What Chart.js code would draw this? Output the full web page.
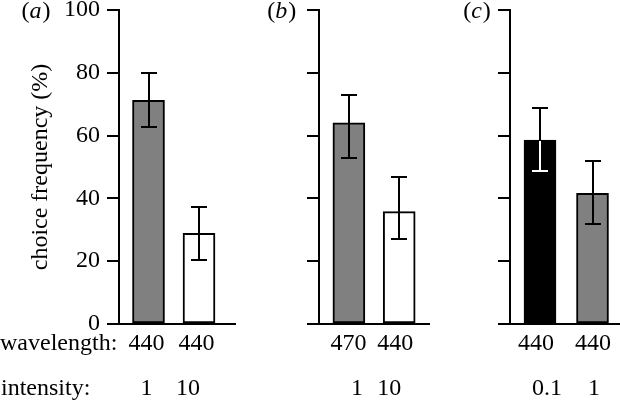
<!DOCTYPE html>
<html><head><meta charset="utf-8">
<script src="https://cdn.jsdelivr.net/npm/chart.js@4.4.0/dist/chart.umd.min.js"></script>
<style>
html,body{margin:0;padding:0;background:#fff;overflow:hidden;width:620px;height:402px;position:relative}
canvas{position:absolute;top:-30px}
</style></head>
<body>
<canvas id="ca" width="240" height="432" style="left:0px"></canvas>
<canvas id="cb" width="190" height="432" style="left:240px"></canvas>
<canvas id="cc" width="190" height="432" style="left:430px"></canvas>
<script>
// ---- data ----
const panelLetters = ['a', 'b', 'c'];
const yTitle = 'choice frequency (%)';
const rowLabels = ['wavelength:', 'intensity:'];
const yTickValues = [0, 20, 40, 60, 80, 100];

const wavelengthA = ['440', '440'];
const intensityA = ['1', '10'];
const choiceA = [71.2, 28.9];
const errLowA = [62.7, 20.4];
const errHighA = [80.0, 37.3];

const wavelengthB = ['470', '440'];
const intensityB = ['1', '10'];
const choiceB = [64.1, 35.8];
const errLowB = [53.0, 27.0];
const errHighB = [72.8, 46.8];

const wavelengthC = ['440', '440'];
const intensityC = ['0.1', '1'];
const choiceC = [58.6, 41.6];
const errLowC = [48.7, 31.8];
const errHighC = [68.8, 51.9];

// ---- styling / layout ----
const FAMILY = '"Liberation Serif", "Times New Roman", serif';
const FSIZE = 24;
const GREY = '#808080';
Chart.defaults.font.family = FAMILY;
Chart.defaults.color = '#000';

const annotPlugin = {
  id: 'annot',
  afterDatasetsDraw(chart, args, o) {
    const ctx = chart.ctx, meta = chart.getDatasetMeta(0), ys = chart.scales.y;
    meta.data.forEach((bar, i) => {
      const x = Math.round(bar.x);
      const yl = Math.round(ys.getPixelForValue(o.low[i]));
      const yh = Math.round(ys.getPixelForValue(o.high[i]));
      const draw = (color) => {
        ctx.strokeStyle = color; ctx.lineWidth = 2; ctx.lineCap = 'butt';
        ctx.beginPath();
        ctx.moveTo(x, yl); ctx.lineTo(x, yh);
        ctx.moveTo(x - 8, yl); ctx.lineTo(x + 8, yl);
        ctx.moveTo(x - 8, yh); ctx.lineTo(x + 8, yh);
        ctx.stroke();
      };
      ctx.save();
      draw('#000');
      if (o.inner[i] !== '#000') {
        ctx.beginPath();
        ctx.rect(bar.x - bar.width / 2 + 2, bar.y + 1, bar.width - 4, bar.base - bar.y - 2);
        ctx.clip();
        draw(o.inner[i]);
      }
      ctx.restore();
    });
  },
  afterDraw(chart, args, o) {
    const ctx = chart.ctx, xs = chart.scales.x;
    ctx.save();
    ctx.fillStyle = '#000';
    ctx.font = FSIZE + 'px ' + FAMILY;
    ctx.textBaseline = 'middle';
    ctx.textAlign = 'center';
    o.wavelength.forEach((t, i) => ctx.fillText(t, xs.getPixelForValue(i) + o.wlShift[i], 344 + 30));
    o.intensity.forEach((t, i) => ctx.fillText(t, xs.getPixelForValue(i) + o.inShift[i], 389 + 30));
    if (o.rows) {
      ctx.textAlign = 'left';
      ctx.fillText(rowLabels[0], 0, 344 + 30);
      ctx.fillText(rowLabels[1], 1, 389 + 30);
    }
    // panel label "(x)" with italic letter
    const normal = FSIZE + 'px ' + FAMILY, ital = 'italic ' + FSIZE + 'px ' + FAMILY;
    ctx.font = normal; const wp = ctx.measureText('(').width, wq = ctx.measureText(')').width;
    ctx.font = ital; const wl = ctx.measureText(o.letter).width;
    let x = o.labelX - (wp + wl + wq + 1) / 2;
    const y = 12 + 30;
    ctx.textAlign = 'left';
    ctx.font = normal; ctx.fillText('(', x, y); x += wp;
    ctx.font = ital; ctx.fillText(o.letter, x, y); x += wl + 1;
    ctx.font = normal; ctx.fillText(')', x, y);
    ctx.restore();
  }
};

function makePanel(id, p) {
  const spacing = p.c1 - p.c0;
  const xmin = -(p.c0 - p.axisX) / spacing;
  const xmax = xmin + (p.right - p.axisX) / spacing;
  return new Chart(document.getElementById(id), {
    type: 'bar',
    data: {
      datasets: [{
        data: p.values.map((v, i) => ({ x: i, y: v })),
        backgroundColor: p.fills,
        borderColor: '#000',
        borderWidth: 2,
        borderSkipped: false,
        barThickness: 32
      }]
    },
    options: {
      responsive: false,
      animation: false,
      devicePixelRatio: 1,
      layout: { padding: { left: 0, top: 40, right: p.padRight, bottom: 68 } },
      plugins: {
        legend: { display: false },
        tooltip: { enabled: false },
        annot: {
          low: p.low, high: p.high, inner: p.inner,
          wavelength: p.wavelength, intensity: p.intensity,
          wlShift: p.wlShift, inShift: p.inShift,
          rows: p.rows, letter: p.letter, labelX: p.labelX
        }
      },
      scales: {
        x: {
          type: 'linear', min: xmin, max: xmax, offset: false, bounds: 'data', grace: 0,
          ticks: { display: false },
          grid: { display: false, offset: false },
          border: { color: '#000', width: 2 },
          afterFit(s) { s.height = 10; }
        },
        y: {
          min: 0, max: 100,
          afterBuildTicks(s) { s.ticks = yTickValues.map(v => ({ value: v })); },
          ticks: { display: p.rows, color: '#000', font: { size: FSIZE, family: FAMILY }, padding: 7 },
          grid: { drawOnChartArea: false, drawTicks: true, tickLength: 12, color: '#000', lineWidth: 2 },
          border: { color: '#000', width: 2 },
          title: { display: p.rows, text: yTitle, color: '#000', font: { size: FSIZE, family: FAMILY }, padding: { top: 26, bottom: 0 } },
          afterFit(s) { s.width = p.axisX; }
        }
      }
    },
    plugins: [annotPlugin]
  });
}

makePanel('ca', {
  values: choiceA, low: errLowA, high: errHighA, fills: [GREY, '#fff'], inner: ['#000', '#000'],
  wavelength: wavelengthA, intensity: intensityA, wlShift: [-2, -2.5], inShift: [-2, -11],
  rows: true, letter: panelLetters[0], labelX: 36,
  axisX: 119, right: 235, c0: 148.5, c1: 199, padRight: 5
});
makePanel('cb', {
  values: choiceB, low: errLowB, high: errHighB, fills: [GREY, '#fff'], inner: ['#000', '#000'],
  wavelength: wavelengthB, intensity: intensityB, wlShift: [-0.5, -4], inShift: [8, -10],
  rows: false, letter: panelLetters[1], labelX: 41.7,
  axisX: 79, right: 189, c0: 108.9, c1: 159.2, padRight: 1
});
makePanel('cc', {
  values: choiceC, low: errLowC, high: errHighC, fills: ['#000', GREY], inner: ['#fff', '#000'],
  wavelength: wavelengthC, intensity: intensityC, wlShift: [-4, 0.5], inShift: [7, 1.5],
  rows: false, letter: panelLetters[2], labelX: 47,
  axisX: 80, right: 190, c0: 110, c1: 162.5, padRight: 0
});
</script>
</body></html>
